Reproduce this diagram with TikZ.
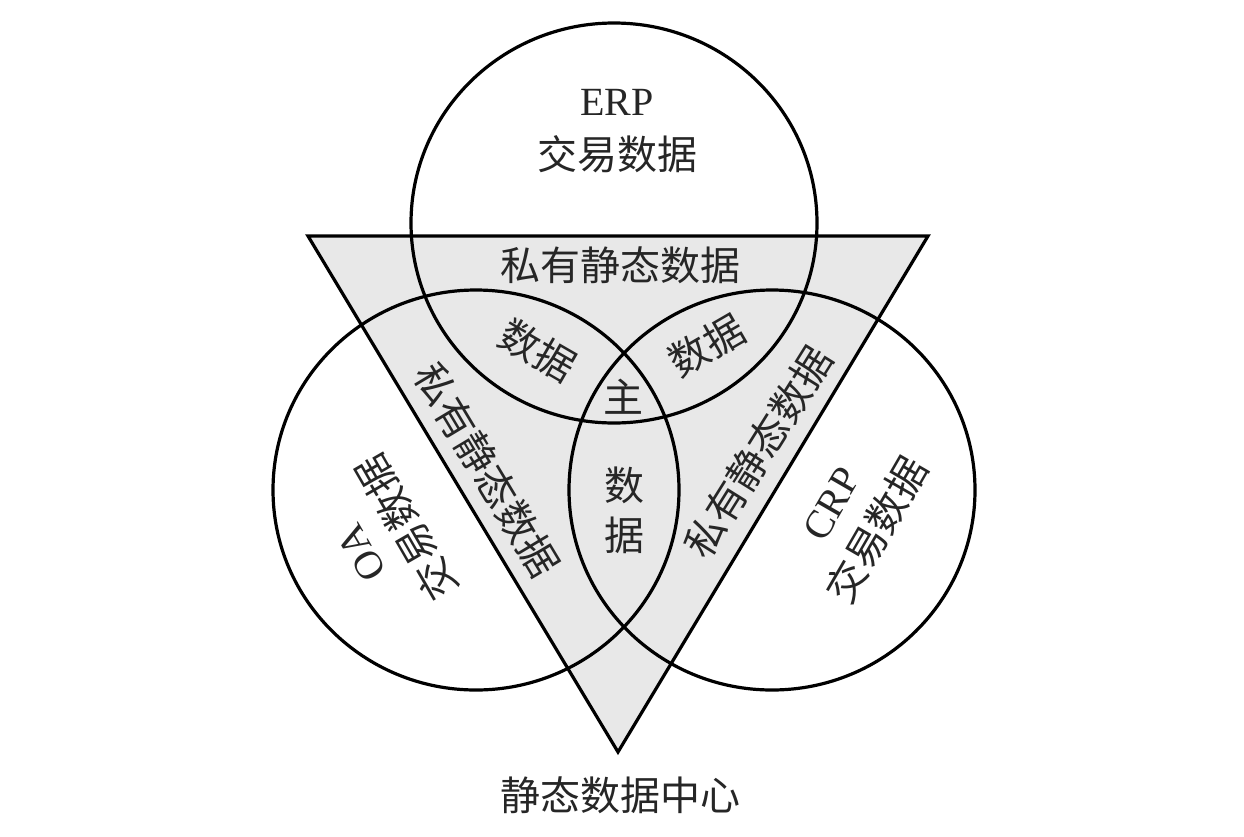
\documentclass[tikz,border=0pt]{standalone}
\usepackage{fontspec}
\setmainfont{Liberation Serif}
\newfontfamily\cjk{Noto Sans CJK SC}
\usetikzlibrary{shapes.geometric}
\begin{document}
\begin{tikzpicture}[x=0.75pt,y=-0.75pt,
  edge/.style={line width=2.4pt, draw=black},
  ring/.style={edge, ellipse, inner sep=0pt, minimum width=304.5pt, minimum height=300pt},
  lbl/.style={font=\fontsize{30}{40}\selectfont\cjk, text=black!85, inner sep=0pt, align=center},
]
\useasboundingbox (0,0) rectangle (1244,836);
\coordinate (A) at (308,236);
\coordinate (B) at (928,236);
\coordinate (C) at (618,752);
\fill[gray!18] (A) -- (B) -- (C) -- cycle;
\node[ring] (erp) at (614,223) {};
\node[ring] (oa) at (476,490) {};
\node[ring] (crp) at (772,490) {};
\draw[edge, line join=miter] (A) -- (B) -- (C) -- cycle;

\node[lbl] (erpt) at (617,131) {{\rmfamily ERP}\\交易数据};
\node[lbl, rotate=120] (oat) at (386,539) {{\rmfamily OA}\\交易数据};
\node[lbl, rotate=60] (crpt) at (856,518) {{\rmfamily CRP}\\交易数据};
\node[lbl] (ptop) at (620,265) {私有静态数据};
\node[lbl, rotate=-59] (pleft) at (487,470) {私有静态数据};
\node[lbl, rotate=58] (pright) at (758,452) {私有静态数据};
\node[lbl, rotate=-30] (dl) at (538,350) {数据};
\node[lbl, rotate=30] (dr) at (707,345) {数据};
\node[lbl] (zhu) at (623,397) {主};
\node[lbl, font=\fontsize{30}{37.5}\selectfont\cjk] (dc) at (624,510) {数\\据};
\node[lbl] (center) at (620,795) {静态数据中心};
\end{tikzpicture}
\end{document}
